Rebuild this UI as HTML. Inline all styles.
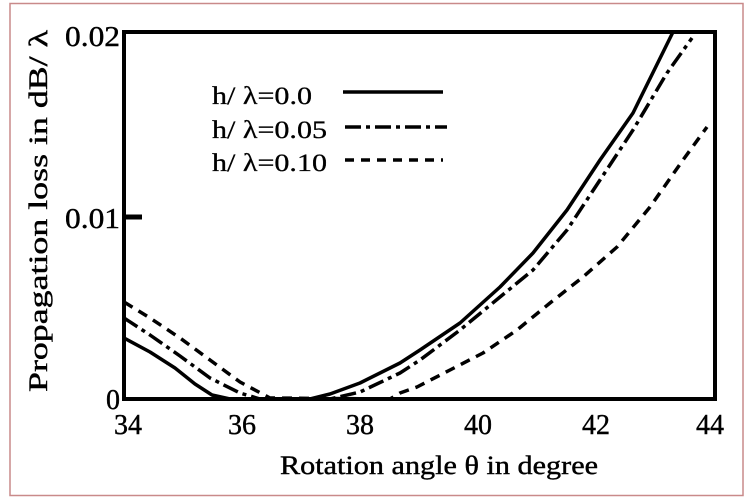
<!DOCTYPE html>
<html><head><style>
html,body{margin:0;padding:0;background:#fff;}
svg text{font-family:"Liberation Serif","Times New Roman",serif;}
</style></head><body>
<svg width="751" height="499" viewBox="0 0 751 499" xmlns="http://www.w3.org/2000/svg" style="display:block">
<rect x="10" y="3.5" width="733" height="492" fill="none" stroke="#c98a8a" stroke-width="1.5"/>
<rect x="124" y="32" width="591" height="367" fill="none" stroke="#000" stroke-width="4"/>
<line x1="124" y1="217" x2="142" y2="217" stroke="#000" stroke-width="5"/>
<g font-family="Liberation Serif" font-size="28" fill="#000" stroke="#000" stroke-width="0.4">
<text x="65" y="46" textLength="55" lengthAdjust="spacingAndGlyphs">0.02</text>
<text x="65" y="228" textLength="55" lengthAdjust="spacingAndGlyphs">0.01</text>
<text x="106" y="409" textLength="14" lengthAdjust="spacingAndGlyphs">0</text>
<g text-anchor="middle">
<text x="128" y="434">34</text>
<text x="242" y="434">36</text>
<text x="360" y="434">38</text>
<text x="478" y="434">40</text>
<text x="596" y="434">42</text>
<text x="710" y="434">44</text>
</g>
<text x="280" y="474" textLength="318" lengthAdjust="spacingAndGlyphs" font-size="26">Rotation angle θ in degree</text>
<text transform="translate(47,392) rotate(-90)" textLength="362" lengthAdjust="spacingAndGlyphs" font-size="26">Propagation loss in dB/ λ</text>
</g>
<g font-family="Liberation Serif" font-size="25" fill="#000" stroke="#000" stroke-width="0.3">
<text x="212" y="104" textLength="100" lengthAdjust="spacingAndGlyphs">h/ λ=0.0</text>
<text x="212" y="138" textLength="115" lengthAdjust="spacingAndGlyphs">h/ λ=0.05</text>
<text x="212" y="171" textLength="115" lengthAdjust="spacingAndGlyphs">h/ λ=0.10</text>
</g>
<g fill="none" stroke="#000" stroke-width="3.5" stroke-linejoin="round">
<line x1="343" y1="92" x2="443" y2="92"/>
<line x1="345" y1="127" x2="447" y2="127" stroke-dasharray="16,5,4,5"/>
<line x1="345" y1="160" x2="443" y2="160" stroke-dasharray="9,7"/>
<polyline points="124,338 150,352 175,368 195,384 212,395 230,399 310,399 330,394 360,383 400,363 420,350 460,323 500,287 533,253 567,210 600,160 633,113 673,32"/>
<polyline stroke-dasharray="16,5,4,5" points="124,318 150,335 180,356 210,378 240,393 260,399 330,399 360,392 400,373 420,360 460,330 500,297 533,270 567,230 600,180 633,130 667,73 692,38"/>
<polyline stroke-dasharray="10,7" points="124,302 150,318 180,338 210,360 240,382 270,398 390,399 400,393 417,387 450,370 483,353 517,330 550,303 583,277 617,247 650,207 683,160 707,127"/>
</g>
</svg>
</body></html>
